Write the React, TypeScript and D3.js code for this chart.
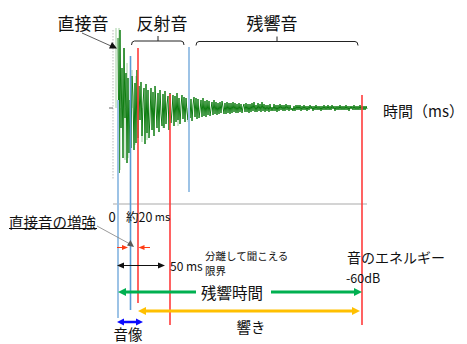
import React from "react";
import * as d3 from "d3";

// impulse response amplitude, one sample per ms
const waveAmp = [
  70, -65, 78, -20, 40, -50, 60, -10, 35, -55,
  30, -45, 8, -40, 32, 12, -42, 25, -35, 38,
  -30, 22, -12, 26, -28, 5, 20, -36, 24, -25,
  18, -30, -8, 20, -22, 16, -28, 22, 2, -20,
  15, -24, 18, -6, -18, 14, -20, 17, -16, 4,
  12, -22, 15, -15, -3, 13, -18, 12, -14, 15,
  -12, 10, -16, 2, 13, -11, 11, -14, 10, -4,
  -12, 12, -10, 9, -13, 3, 11, -9, 10, -11,
  9, -10, -2, 8, -9, 10, -8, 7, -9, 8,
  -7, 7, -8, -1, 6, -7, 8, -6, 6, -7,
  5, -6, 6, -5, 7, 1, -6, 5, -6, 6,
  -5, 5, -6, 5, -5, 6, -4, 5, -5, 4,
  -5, 5, -4, 4, -5, 1, 4, -4, 5, -4,
  4, -5, 4, -4, 5, -3, 6, -4, 3, -4,
  5, -3, 4, -4, 6, -3, 4, -4, 3, -3,
  3, -4, 4, -3, 1, -3, 4, -3, 3, -4,
  3, -3, 4, -2, 3, -3, 3, -3, 4, -2,
  3, -3, 3, -2, 0, -3, 2, -3, 3, -2,
  3, -2, 3, -3, 2, -2, 3, -2, 2, -3,
  2, -2, 3, -1, 2, -3, 2, -2, 3, -2,
  2, -2, 2, -3, 2, -2, 3, -2, 2, -2,
  3, -2, 2, -2, 3, -1, 2, -3, 2, -2,
  2, -2, 3, -2, 2, -2, 2, -2, 3, -2,
  2, -3, 2, -1, 2, -2, 3, -2, 2, -2,
  2, -2, 3, -2, 2, -2, 2, -2, 2, -1,
];

// faint early reflections spikes
const spikeT = [-2, 1, 6, 9, 14, 18, 2, 7, 10, 17, 24, 29, 35, 45, 60, 70];
const spikeAmp = [80, 80, 60, 45, 38, 32, -62, -52, -50, -37, -34, -32, -22, -20, -18, -14];

// vertical marker lines (ms)
const markerT = [0, 12.5, 20, 52, 71, 244];
const markerKind = ["light", "blue", "red", "red", "light", "red"];

const topLabels = ["直接音", "反射音", "残響音"];

const W = 467;
const H = 344;
const FONT = "'Noto Sans CJK JP', 'Noto Sans', sans-serif";

const x = d3.scaleLinear().domain([0, 250]).range([118, 368]);
const y = d3.scaleLinear().domain([-100, 100]).range([208, 8]);

const markerStyle: Record<string, { c: string; w: number }> = {
  light: { c: "#9dc3e6", w: 2 },
  blue: { c: "#5b9bd5", w: 1.6 },
  red: { c: "#ff3b3b", w: 1.6 },
};
// vertical extents of the marker lines (layout)
const markerSpan = [
  [100, 318],
  [56, 310],
  [48, 303],
  [94, 325],
  [47, 192],
  [95, 325],
];

function Head({ x0, y0, dir, len, w, color }: any) {
  const p = [
    [x0, y0],
    [x0 - dir * len, y0 - w / 2],
    [x0 - dir * len, y0 + w / 2],
  ];
  return <polygon points={p.map((d) => d.join(",")).join(" ")} fill={color} />;
}

function HArrow({ t0, t1, yy, color, sw, len, w, both }: any) {
  const a = x(t0);
  const b = x(t1);
  const dir = b > a ? 1 : -1;
  return (
    <g>
      <line x1={both ? a + dir * len * 0.8 : a} x2={b - dir * len * 0.8} y1={yy} y2={yy} stroke={color} strokeWidth={sw} />
      <Head x0={b} y0={yy} dir={dir} len={len} w={w} color={color} />
      {both && <Head x0={a} y0={yy} dir={-dir} len={len} w={w} color={color} />}
    </g>
  );
}

function Bracket({ t0, t1, tm, yy }: any) {
  const a = x(t0);
  const b = x(t1);
  const m = x(tm);
  return (
    <path
      d={`M${a},${yy + 4} Q${a},${yy} ${a + 3},${yy} L${b - 3},${yy} Q${b},${yy} ${b},${yy + 4} M${m},${yy} L${m},${yy - 5}`}
      fill="none"
      stroke="#222"
      strokeWidth={1}
    />
  );
}

export default function App() {
  const wave = d3
    .line<number>()
    .x((_, i) => x(i))
    .y((d) => y(d));

  const greenY = 292;
  const greenTextX = 232;

  return (
    <svg width={W} height={H} style={{ position: "absolute", left: 0, top: 0, background: "#fff" }} fontFamily={FONT}>
      {/* axis */}
      <line x1={113} x2={113} y1={30} y2={180} stroke="#bbb" strokeDasharray="1.5,1.5" />
      <line x1={109} x2={113} y1={y(0)} y2={y(0)} stroke="#666" />
      <line x1={113} x2={367} y1={204} y2={204} stroke="#aaa" strokeWidth={1.2} />

      {/* waveform */}
      {spikeT.map((t, i) => (
        <line key={i} x1={x(t)} x2={x(t)} y1={y(0)} y2={y(spikeAmp[i])} stroke="#8cc78c" strokeWidth={1} opacity={0.8} />
      ))}
      <path d={wave(waveAmp) || ""} fill="none" stroke="#0f7d12" strokeWidth={1} />

      {/* markers */}
      {markerT.map((t, i) => (
        <line
          key={i}
          x1={x(t)}
          x2={x(t)}
          y1={markerSpan[i][0]}
          y2={markerSpan[i][1]}
          stroke={markerStyle[markerKind[i]].c}
          strokeWidth={markerStyle[markerKind[i]].w}
        />
      ))}

      {/* brackets */}
      <Bracket t0={13.5} t1={66} tm={40} yy={41} />
      <Bracket t0={78} t1={240} tm={159} yy={41.5} />

      {/* top labels */}
      {topLabels.map((s, i) => (
        <text key={s} x={[83, 162, 272][i]} y={22.5} fontSize={17} textAnchor="middle" dominantBaseline="central" fill="#111">
          {s}
        </text>
      ))}
      <line x1={82} y1={33} x2={111} y2={46} stroke="#333" strokeWidth={0.8} />
      <polygon points="117,48.5 109,48.5 112,42" fill="#111" />

      <text x={383} y={110} fontSize={15} dominantBaseline="central" fill="#111">時間（ms）</text>

      {/* time labels */}
      <text x={112} y={216} fontSize={13} textAnchor="middle" dominantBaseline="central" fill="#111">0</text>
      <text x={126} y={216} fontSize={12.5} dominantBaseline="central" fill="#111">
        約20<tspan fontSize={11}> ms</tspan>
      </text>

      <text x={9} y={221} fontSize={14.5} dominantBaseline="central" fill="#111">直接音の増強</text>
      <line x1={9} x2={97} y1={228.5} y2={228.5} stroke="#111" strokeWidth={1} />
      <line x1={97} y1={226} x2={130} y2={244} stroke="#808080" strokeWidth={0.8} />
      <polygon points="134,247 127,245.5 130.5,240" fill="#595959" />

      {/* small red arrows */}
      <HArrow t0={-1} t1={10} yy={247.5} color="#ff3c14" sw={1} len={6} w={5} />
      <HArrow t0={32} t1={20.5} yy={247.5} color="#ff3c14" sw={1} len={6} w={5} />

      {/* 50 ms */}
      <HArrow t0={-1} t1={47} yy={265.5} color="#111" sw={1} len={7} w={6} both />
      <text x={170} y={265} fontSize={12} dominantBaseline="central" fill="#111">50 ms</text>
      <text x={205} y={255.5} fontSize={10.5} dominantBaseline="central" fill="#111">分離して聞こえる</text>
      <text x={205} y={270} fontSize={10.5} dominantBaseline="central" fill="#111">限界</text>

      <text x={347} y={257} fontSize={14} dominantBaseline="central" fill="#111">音のエネルギー</text>
      <text x={346} y={277} fontSize={12.5} dominantBaseline="central" fill="#111">-60dB</text>

      {/* reverberation time */}
      <HArrow t0={78} t1={0} yy={greenY} color="#00b050" sw={3} len={8} w={8} />
      <HArrow t0={153} t1={244} yy={greenY} color="#00b050" sw={3} len={8} w={8} />
      <text x={greenTextX} y={greenY} fontSize={15.5} textAnchor="middle" dominantBaseline="central" fill="#111">残響時間</text>

      <HArrow t0={20} t1={242} yy={311} color="#ffc000" sw={3} len={8} w={8} both />
      <text x={251} y={326} fontSize={14.5} textAnchor="middle" dominantBaseline="central" fill="#111">響き</text>

      <HArrow t0={-1} t1={25} yy={322} color="#0a0aff" sw={2.5} len={7} w={7} both />
      <text x={128} y={333} fontSize={14.5} textAnchor="middle" dominantBaseline="central" fill="#111">音像</text>
    </svg>
  );
}
